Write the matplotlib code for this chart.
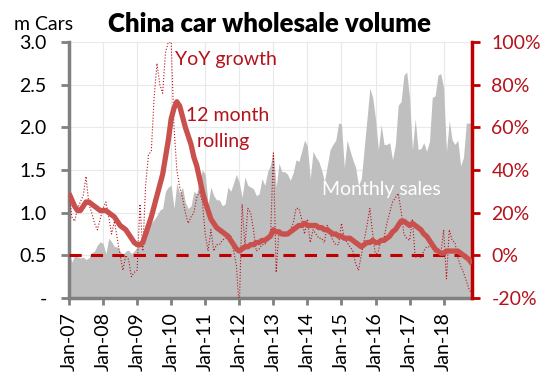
import matplotlib
matplotlib.use('Agg')
import matplotlib.pyplot as plt
import numpy as np

plt.rcParams['font.family'] = ['Lato', 'DejaVu Sans']

# monthly car wholesale volume, m cars, Jan-07 .. Nov-18
sales = [0.55, 0.42, 0.50, 0.48, 0.47, 0.48, 0.45, 0.47, 0.53, 0.55, 0.62, 0.66,
         0.64, 0.52, 0.70, 0.66, 0.60, 0.60, 0.55, 0.50, 0.55, 0.56, 0.52, 0.55,
         0.60, 0.68, 0.72, 0.82, 0.85, 0.88, 0.92, 0.97, 1.03, 1.05, 1.25, 1.30,
         1.32, 1.05, 1.35, 1.22, 1.30, 1.12, 1.05, 1.08, 1.25, 1.22, 1.40, 1.50,
         1.45, 1.10, 1.30, 1.20, 1.15, 1.15, 1.08, 1.10, 1.30, 1.25, 1.35, 1.45,
         1.35, 1.18, 1.42, 1.32, 1.30, 1.28, 1.20, 1.22, 1.40, 1.32, 1.48, 1.56,
         1.72, 1.30, 1.58, 1.48, 1.48, 1.45, 1.38, 1.47, 1.62, 1.60, 1.72, 1.85,
         1.78, 1.40, 1.72, 1.65, 1.60, 1.50, 1.36, 1.55, 1.74, 1.80, 1.85, 2.05,
         2.04, 1.53, 1.85, 1.73, 1.62, 1.53, 1.32, 1.40, 1.75, 2.10, 2.46, 2.35,
         2.10, 1.74, 2.03, 1.80, 1.80, 1.82, 1.62, 1.80, 2.26, 2.30, 2.61, 2.65,
         2.35, 1.74, 2.10, 1.74, 1.75, 1.82, 1.72, 1.83, 2.35, 2.37, 2.61, 2.63,
         2.46, 1.72, 2.08, 1.85, 1.80, 1.85, 1.55, 1.65, 2.05, 2.05, 2.05]

# YoY growth, %
yoy = [29, 18, 16, 22, 25, 28, 37, 24, 20, 15, 12, 17,
       22, 25, 18, 10, 16, 8, 0, -7, 0, -2, -10, -8,
       -7, 24, 2, 33, 47, 49, 74, 90, 80, 76, 95, 100,
       100, 60, 40, 32, 27, 20, 15, 18, 20, 27, 30, 25,
       10, 2, 12, 2, 5, 5, 7, 8, 8, 9, 2, -5,
       -25, 24, 4, 22, 20, 12, 2, 3, 5, 5, 8, 8,
       48, -8, 12, 10, 9, 10, 12, 15, 22, 22, 17, 10,
       17, 6, 12, 10, 8, 8, 6, 14, 10, 7, 5, 5,
       15, 8, 6, 4, 2, -4, -7, 0, 7, 14, 22, 10,
       0, 2, 8, 8, 15, 20, 25, 27, 29, 21, 10, 8,
       7, 17, -1, 0, -1, 2, 4, 4, 4, 1, 2, 0,
       12, -11, 12, 7, 6, -1, -5, -8, -12, -16, -18]

# 12 month rolling growth, %
rolling = [29, 26, 23, 21, 21, 23, 25, 25, 24, 23, 22, 21,
           21, 21, 20, 19, 18, 16, 14, 13, 12, 10, 8, 6,
           5, 5, 6, 10, 14, 18, 23, 28, 33, 38, 46, 54,
           64, 69, 72, 70, 65, 60, 56, 52, 46, 42, 36, 30,
           25, 21, 17, 15, 13, 12, 11, 10, 9, 7, 5, 3,
           2, 3, 4, 4, 5, 5, 6, 6, 7, 7, 8, 9,
           12, 11, 11, 10, 10, 10, 11, 12, 13, 14, 14, 15,
           14, 14, 14, 14, 13, 13, 12, 12, 11, 10, 10, 9,
           9, 8, 8, 8, 7, 6, 5, 4, 5, 6, 6, 7,
           6, 6, 7, 7, 8, 9, 11, 12, 14, 16, 16, 15,
           14, 15, 14, 13, 12, 10, 9, 7, 5, 3, 2, 1,
           1, 2, 2, 2, 2, 2, 1, 0, -1, -2, -4]

years = ['07', '08', '09', '10', '11', '12', '13', '14', '15', '16', '17', '18']
xlabels = ['Jan-' + y for y in years]

left_ticks = [0, 0.5, 1.0, 1.5, 2.0, 2.5, 3.0]
left_labels = ['-', '0.5', '1.0', '1.5', '2.0', '2.5', '3.0']
right_ticks = [-20, 0, 20, 40, 60, 80, 100]

DARKRED = '#B5121B'
GREY = '#808080'
FS = 14

months = np.arange(len(sales))

fig = plt.figure(figsize=(5.5, 3.74), dpi=100)
ax1 = fig.add_axes([69/550., 1 - 298/374., (472 - 69)/550., (298 - 42)/374.])
ax1.fill_between(months, 0, sales, color='#BFBFBF', lw=0, zorder=2)
ax1.set_xlim(0, 142)
ax1.set_ylim(0, 3)
ax1.set_xticks(np.arange(0, 12*len(years), 12))
ax1.set_xticklabels(xlabels, rotation=90, fontsize=FS)
ax1.set_yticks(left_ticks)
ax1.set_yticklabels(left_labels, fontsize=FS)
ax1.grid(True, color='#E9E9E9', lw=0.8, zorder=0)
ax1.set_axisbelow(True)
for s in ['top', 'right']:
    ax1.spines[s].set_visible(False)
for s in ['left', 'bottom']:
    ax1.spines[s].set_color(GREY)
    ax1.spines[s].set_linewidth(2.5)
ax1.tick_params(axis='y', colors=GREY, labelcolor='black', length=6, width=2, pad=10)
ax1.tick_params(axis='x', colors=GREY, labelcolor='black', length=5, width=2, pad=5)

ax2 = ax1.twinx()
ax2.set_ylim(-20, 100)
ax2.set_xlim(0, 142)
ax2.axhline(0, color='#C00000', lw=2.2, ls=(0, (4, 3)), zorder=3)
ax2.plot(months, yoy, color=DARKRED, lw=0.8, ls=':', zorder=4)
ax2.plot(months, rolling, color='#C9504C', lw=3.8, solid_capstyle='butt', zorder=5)
ax2.set_yticks(right_ticks)
ax2.set_yticklabels([str(t) + '%' for t in right_ticks], fontsize=FS, color=DARKRED)
for s in ['top', 'left', 'bottom']:
    ax2.spines[s].set_visible(False)
ax2.spines['right'].set_color('#C00000')
ax2.spines['right'].set_linewidth(2.5)
ax2.tick_params(axis='y', colors='#C00000', labelcolor=DARKRED, length=6, width=2, pad=8)

# labels inside the chart
ax1.text(37.4, 2.79, 'YoY growth', color=DARKRED, fontsize=FS, va='center', zorder=6)
ax1.text(41.3, 2.14, '12 month', color=DARKRED, fontsize=FS, va='center', zorder=6)
ax1.text(44.8, 1.83, 'rolling', color=DARKRED, fontsize=FS, va='center', zorder=6)
ax2.text(89, (298 - 190)/2.133 - 20, 'Monthly sales', color='white', fontsize=FS,
         va='center', zorder=6)

fig.text(14/550., 1 - 25/374., 'm Cars', fontsize=FS, va='center', ha='left')
fig.text(270/550., 1 - 24/374., 'China car wholesale volume', fontsize=18.5,
         fontweight='heavy', va='center', ha='center')

plt.savefig('out.png', dpi=100)
